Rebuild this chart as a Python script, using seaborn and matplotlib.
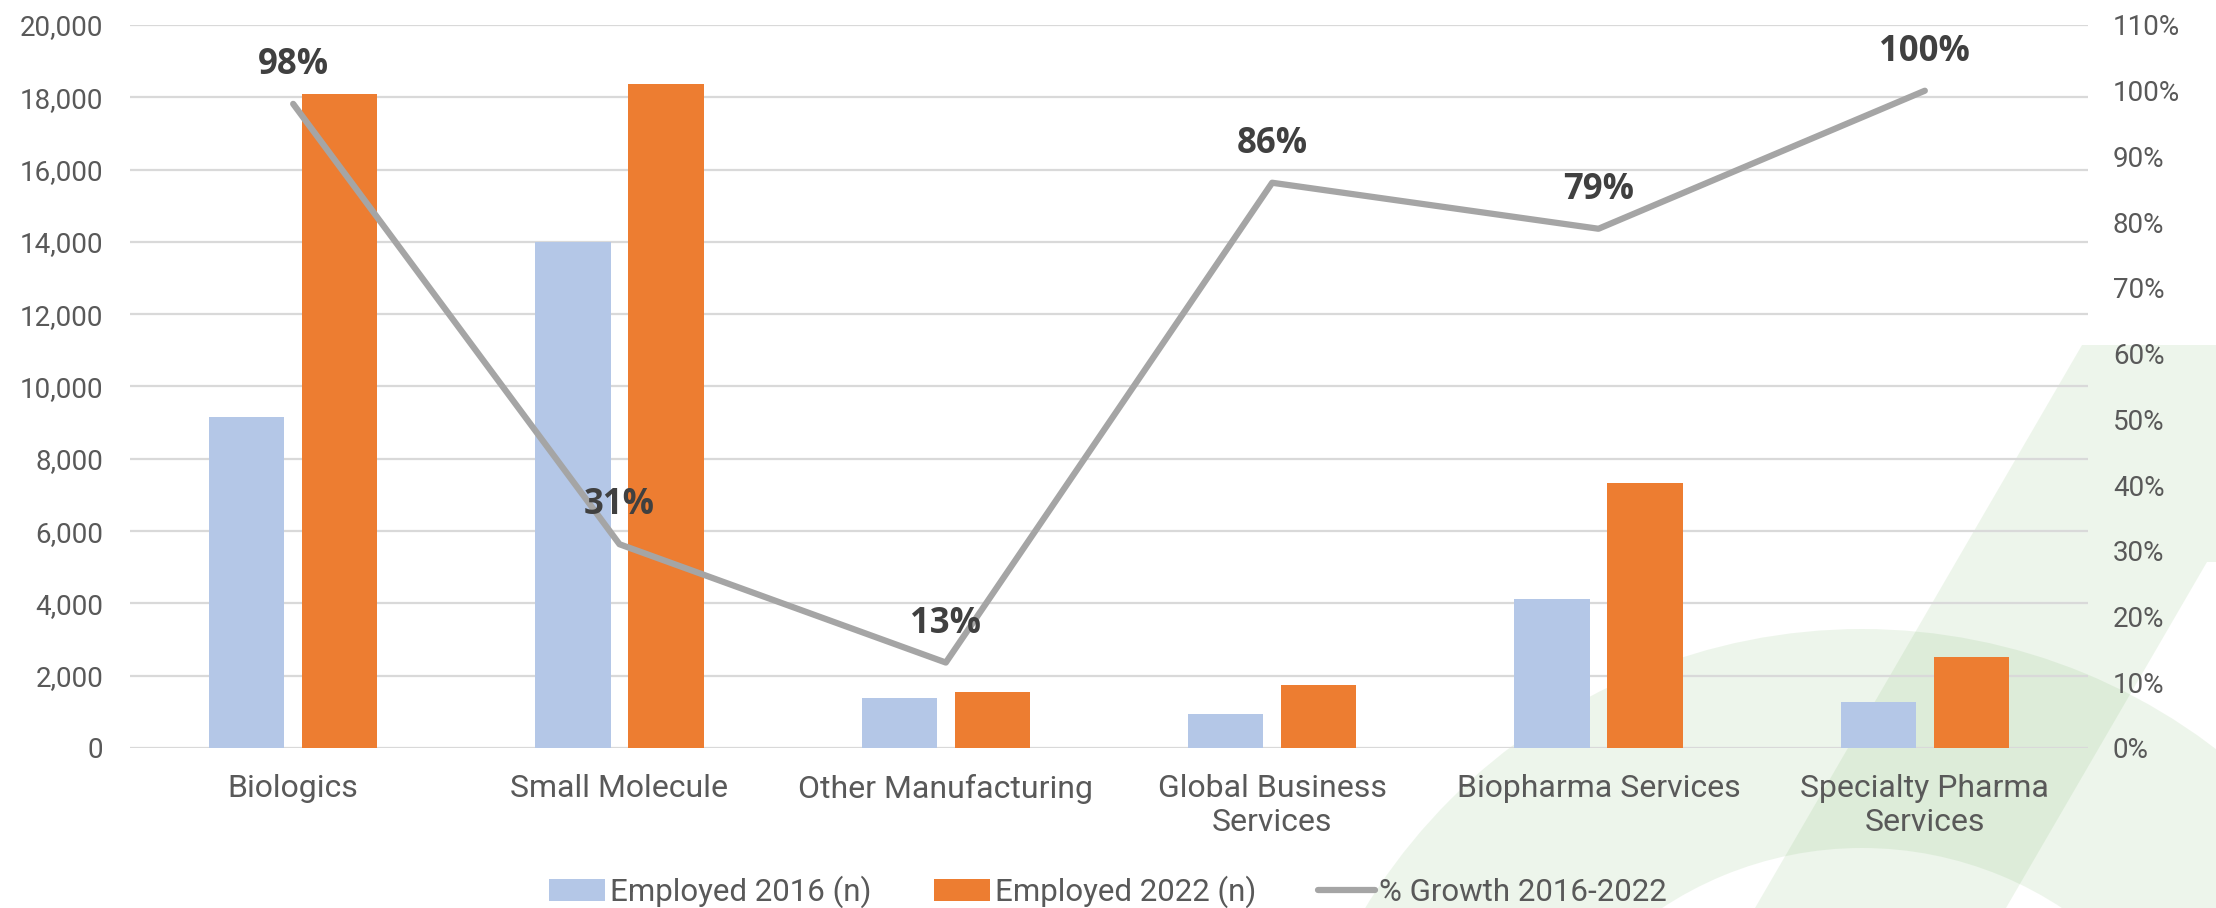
import numpy as np
import pandas as pd
import matplotlib
matplotlib.use("Agg")
import matplotlib.pyplot as plt
from matplotlib.patches import Polygon, Wedge
from matplotlib.lines import Line2D
from matplotlib.ticker import FuncFormatter
import seaborn as sns

# ---- data ---------------------------------------------------------------
categories = ["Biologics", "Small Molecule", "Other Manufacturing",
              "Global Business\nServices", "Biopharma Services",
              "Specialty Pharma\nServices"]
employed_2016 = [9160, 14000, 1380, 950, 4120, 1280]
employed_2022 = [18080, 18370, 1540, 1740, 7320, 2530]
growth = [0.98, 0.31, 0.13, 0.86, 0.79, 1.00]

series_2016 = "Employed 2016 (n)"
series_2022 = "Employed 2022 (n)"
series_growth = "% Growth 2016-2022"

left_ticks = list(range(0, 20001, 2000))
right_ticks = [i / 10 for i in range(0, 12)]

# ---- styling ------------------------------------------------------------
sns.set_theme(style="white")
plt.rcParams["font.family"] = ["Roboto", "DejaVu Sans"]
TEXT = "#595959"
GRID = "#D9D9D9"
C2016 = "#B4C7E7"
C2022 = "#ED7D31"
CLINE = "#A5A5A5"

W, H = 2216, 908
fig = plt.figure(figsize=(W / 100, H / 100), dpi=100)
fig.patch.set_facecolor("white")

# decorative background (pixel coordinates)
bg = fig.add_axes([0, 0, 1, 1], zorder=-1)
bg.set_xlim(0, W)
bg.set_ylim(H, 0)
bg.axis("off")
green = "#55A541"
bg.add_patch(Polygon([(2082, 345), (W, 345), (W, 562), (2207, 562),
                      (2006, H), (1755, H)], closed=True,
                     facecolor=green, alpha=0.10, lw=0))
bg.add_patch(Wedge((1862, 1211), 582, 0, 360, width=219,
                   facecolor=green, alpha=0.10, lw=0))

# main axes
ax = fig.add_axes([130 / W, 1 - 748 / H, (2088 - 130) / W, (748 - 25) / H])
ax.set_facecolor("none")

df = pd.DataFrame({
    "category": categories * 2,
    "value": employed_2016 + employed_2022,
    "series": [series_2016] * len(categories) + [series_2022] * len(categories),
})
sns.barplot(data=df, x="category", y="value", hue="series",
            order=categories, hue_order=[series_2016, series_2022],
            palette=[C2016, C2022], saturation=1, width=0.57, gap=0.19,
            linewidth=0, ax=ax, zorder=2)

ax.set_ylim(0, 20000)
ax.set_yticks(left_ticks)
ax.yaxis.set_major_formatter(FuncFormatter(lambda v, p: f"{int(v):,}"))
ax.set_xlim(-0.5, len(categories) - 0.5)
ax.grid(axis="y", color=GRID, lw=1.6, zorder=0)
ax.set_axisbelow(True)
ax.set_xlabel("")
ax.set_ylabel("")
for s in ax.spines.values():
    s.set_visible(False)
ax.tick_params(axis="y", length=0, pad=19, labelsize=20, labelcolor=TEXT)
ax.tick_params(axis="x", length=0, pad=19, labelsize=23, labelcolor=TEXT)
for t in ax.get_xticklabels():
    t.set_linespacing(1.2)

# growth line on secondary axis
ax2 = ax.twinx()
ax2.set_facecolor("none")
pos = np.arange(len(categories))
sns.lineplot(x=pos, y=growth, color=CLINE, lw=4.5, ax=ax2,
             solid_capstyle="round", label=series_growth)
ax2.set_ylim(0, 1.1)
ax2.set_yticks(right_ticks)
ax2.yaxis.set_major_formatter(FuncFormatter(lambda v, p: f"{v:.0%}"))
ax2.set_ylabel("")
for s in ax2.spines.values():
    s.set_visible(False)
ax2.tick_params(axis="y", length=0, pad=18, labelsize=20, labelcolor=TEXT)
ax2.grid(False)

for x, v in zip(pos, growth):
    ax2.annotate(f"{v:.0%}", (x, v), xytext=(0, 28), textcoords="offset points",
                 ha="center", va="center", fontsize=25, fontweight="bold",
                 family=["Open Sans", "DejaVu Sans"], color="#404040")

# legend
h1, l1 = ax.get_legend_handles_labels()
if ax.get_legend() is not None:
    ax.get_legend().remove()
if ax2.get_legend() is not None:
    ax2.get_legend().remove()
line_handle = Line2D([0], [0], color=CLINE, lw=4.5, solid_capstyle="round")
fig.legend(h1 + [line_handle], l1 + [series_growth], loc="center",
           bbox_to_anchor=(0.5, 1 - 892 / H), ncol=3, frameon=False,
           fontsize=22.5, labelcolor=TEXT, handlelength=1.8, handleheight=0.7,
           handletextpad=0.15, columnspacing=2.0)

fig.savefig("out.png", dpi=100, facecolor="white")
